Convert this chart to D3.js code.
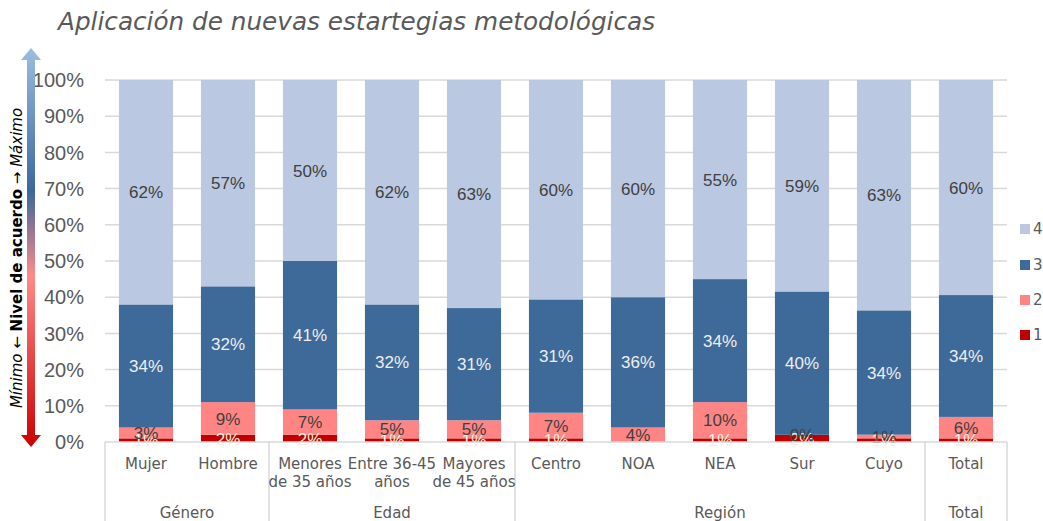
<!DOCTYPE html>
<html>
<head>
<meta charset="utf-8">
<script src="https://cdn.jsdelivr.net/npm/d3@7"></script>
<style>
  body { margin: 0; background: #fff; }
  svg { display: block; }
</style>
</head>
<body>
<svg id="chart" width="1043" height="521"></svg>
<script>
const title = "Aplicación de nuevas estartegias metodológicas";
const categories = ["Mujer", "Hombre", "Menores de 35 años", "Entre 36-45 años", "Mayores de 45 años", "Centro", "NOA", "NEA", "Sur", "Cuyo", "Total"];
const categoryLines = [["Mujer"], ["Hombre"], ["Menores", "de 35 años"], ["Entre 36-45", "años"], ["Mayores", "de 45 años"], ["Centro"], ["NOA"], ["NEA"], ["Sur"], ["Cuyo"], ["Total"]];
const groups = ["Género", "Edad", "Región", "Total"];
const groupOfCategory = ["Género", "Género", "Edad", "Edad", "Edad", "Región", "Región", "Región", "Región", "Región", "Total"];
const seriesNames = ["1", "2", "3", "4"];
const s1 = [1, 2, 2, 1, 1, 1, null, 1, 2, 1, 1];
const s2 = [3, 9, 7, 5, 5, 7, 4, 10, 0, 1, 6];
const s3 = [34, 32, 41, 32, 31, 31, 36, 34, 40, 34, 34];
const s4 = [62, 57, 50, 62, 63, 60, 60, 55, 59, 63, 60];
const yTicks = [0, 10, 20, 30, 40, 50, 60, 70, 80, 90, 100];
const colors = ["#c00000", "#ff8585", "#3e6a9a", "#bac8e1"];
const labelColors = ["#f3f1dc", "#404040", "#eeeeee", "#404040"];

const svg = d3.select("#chart");
const plotLeft = 105, plotRight = 1007, plotTop = 80, plotBottom = 442;

const x = d3.scaleBand().domain(categories).range([plotLeft, plotRight]).paddingInner(0.34).paddingOuter(0.17);
const y = d3.scaleLinear().domain([0, 100]).range([plotBottom, plotTop]);

// Title
svg.append("text").attr("x", 58).attr("y", 30)
  .attr("font-family", "DejaVu Sans").attr("font-style", "italic")
  .attr("font-size", 24).attr("fill", "#595959")
  .attr("textLength", 597).attr("lengthAdjust", "spacingAndGlyphs").text(title);

// Gridlines
svg.append("g").selectAll("line").data(yTicks.filter(d => d > 0)).join("line")
  .attr("x1", plotLeft).attr("x2", plotRight)
  .attr("y1", d => y(d)).attr("y2", d => y(d))
  .attr("stroke", "#d9d9d9").attr("stroke-width", 1.5);

// Y axis tick labels
svg.append("g").selectAll("text").data(yTicks).join("text")
  .attr("x", 84).attr("y", d => y(d)).attr("dy", "0.36em")
  .attr("text-anchor", "end").attr("font-family", "Liberation Sans, Arial")
  .attr("font-size", 20).attr("fill", "#595959")
  .text(d => d + "%");

// Stack (100% stacked)
const rows = categories.map((c, i) => ({ cat: c, "1": s1[i] || 0, "2": s2[i], "3": s3[i], "4": s4[i], raw: [s1[i], s2[i], s3[i], s4[i]] }));
const stack = d3.stack().keys(seriesNames).offset(d3.stackOffsetExpand)(rows);

const gBars = svg.append("g");
stack.forEach((layer, k) => {
  gBars.append("g").attr("fill", colors[k]).selectAll("rect").data(layer).join("rect")
    .attr("x", d => x(d.data.cat)).attr("width", x.bandwidth())
    .attr("y", d => y(d[1] * 100)).attr("height", d => y(d[0] * 100) - y(d[1] * 100));
});

// Bar labels
stack.forEach((layer, k) => {
  svg.append("g").selectAll("text").data(layer.filter(d => d.data.raw[k] !== null)).join("text")
    .attr("x", d => x(d.data.cat) + x.bandwidth() / 2)
    .attr("y", d => y((d[0] + d[1]) * 50)).attr("dy", "0.36em")
    .attr("text-anchor", "middle").attr("font-family", "Liberation Sans, Arial")
    .attr("font-size", 17).attr("fill", labelColors[k])
    .text(d => d.data.raw[k] + "%");
});

// Category axis box
const step = x.step();
const halfGap = x.paddingInner() * step / 2;
const gAxis = svg.append("g").attr("stroke", "#d9d9d9").attr("stroke-width", 1.5);
gAxis.append("line").attr("x1", plotLeft).attr("x2", plotRight).attr("y1", plotBottom).attr("y2", plotBottom);
const boundaries = [plotLeft];
groups.forEach(g => {
  const idx = groupOfCategory.map((d, i) => d === g ? i : -1).filter(i => i >= 0);
  const last = categories[idx[idx.length - 1]];
  boundaries.push(Math.min(plotRight, x(last) + x.bandwidth() + halfGap));
});
gAxis.selectAll("line.div").data(boundaries).join("line").attr("class", "div")
  .attr("x1", d => d).attr("x2", d => d).attr("y1", plotBottom).attr("y2", 521);

// Category labels
const gCat = svg.append("g").attr("font-family", "DejaVu Sans").attr("font-size", 15).attr("fill", "#595959").attr("text-anchor", "middle");
categories.forEach((c, i) => {
  const t = gCat.append("text").attr("x", x(c) + x.bandwidth() / 2).attr("y", 469);
  categoryLines[i].forEach((ln, j) => {
    t.append("tspan").attr("x", x(c) + x.bandwidth() / 2).attr("y", 469 + j * 18).text(ln);
  });
});

// Group labels
groups.forEach(g => {
  const idx = groupOfCategory.map((d, i) => d === g ? i : -1).filter(i => i >= 0);
  const x0 = x(categories[idx[0]]);
  const x1 = x(categories[idx[idx.length - 1]]) + x.bandwidth();
  gCat.append("text").attr("x", (x0 + x1) / 2).attr("y", 518).text(g);
});

// Legend
const legendY = [335, 300, 265, 229];
const gLeg = svg.append("g");
seriesNames.forEach((s, k) => {
  gLeg.append("rect").attr("x", 1020).attr("y", legendY[k] - 5).attr("width", 10).attr("height", 10).attr("fill", colors[k]);
  gLeg.append("text").attr("x", 1033).attr("y", legendY[k]).attr("dy", "0.36em")
    .attr("font-family", "DejaVu Sans").attr("font-size", 15).attr("fill", "#595959").text(s);
});

// Gradient arrow
const defs = svg.append("defs");
const grad = defs.append("linearGradient").attr("id", "arrowGrad")
  .attr("x1", 0).attr("y1", 0).attr("x2", 0).attr("y2", 1).attr("gradientUnits", "objectBoundingBox");
grad.append("stop").attr("offset", "0%").attr("stop-color", "#9dbce0");
grad.append("stop").attr("offset", "36%").attr("stop-color", "#3b689c");
grad.append("stop").attr("offset", "57%").attr("stop-color", "#ff8a8a");
grad.append("stop").attr("offset", "100%").attr("stop-color", "#cc0000");
const ax = 31, aTop = 48, aBot = 447, headH = 12, headW = 10, shaftW = 4;
const arrowPath = `M${ax},${aTop} L${ax + headW},${aTop + headH} L${ax + shaftW},${aTop + headH} L${ax + shaftW},${aBot - headH} L${ax + headW},${aBot - headH} L${ax},${aBot} L${ax - headW},${aBot - headH} L${ax - shaftW},${aBot - headH} L${ax - shaftW},${aTop + headH} L${ax - headW},${aTop + headH} Z`;
svg.append("path").attr("d", arrowPath).attr("fill", "url(#arrowGrad)");

// Y axis title
const yt = svg.append("text").attr("transform", "translate(22,258) rotate(-90)")
  .attr("text-anchor", "middle").attr("font-family", "DejaVu Sans").attr("font-size", 15).attr("fill", "#000");
yt.append("tspan").attr("font-style", "italic").text("Mínimo ← ");
yt.append("tspan").attr("font-weight", "bold").text("Nivel de acuerdo");
yt.append("tspan").attr("font-style", "italic").text(" → Máximo");
</script>
</body>
</html>
